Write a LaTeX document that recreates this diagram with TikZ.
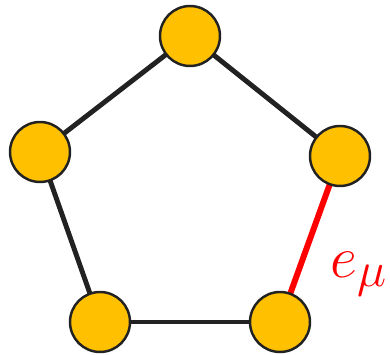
\documentclass[tikz,border=0pt]{standalone}
\usepackage{amsmath,amssymb}
\usepackage{xcolor}
\usetikzlibrary{positioning}
\definecolor{vtxfill}{RGB}{255,192,0}
\definecolor{edgeblack}{RGB}{34,34,34}
\definecolor{edgered}{RGB}{255,0,0}
\tikzset{vtx/.style={circle, draw=edgeblack, line width=1.4pt, fill=vtxfill, minimum size=1.2cm, inner sep=0pt}, edge/.style={draw=edgeblack, line width=2.8pt}, redge/.style={draw=edgered, line width=3.4pt}}

\begin{document}
\begin{tikzpicture}[x=0.02cm, y=-0.02cm]
\useasboundingbox (0,0) rectangle (390,355);
\coordinate (p1) at (190,36);
\coordinate (p2) at (340,156);
\coordinate (p3) at (280,322);
\coordinate (p4) at (100,322);
\coordinate (p5) at (40,152);
\draw[edge] (p1)--(p2);
\draw[edge] (p3)--(p4);
\draw[edge] (p4)--(p5);
\draw[edge] (p5)--(p1);
\draw[redge] (p2)--(p3);
\node[vtx] (v1) at (p1) {};
\node[vtx] (v2) at (p2) {};
\node[vtx] (v3) at (p3) {};
\node[vtx] (v4) at (p4) {};
\node[vtx] (v5) at (p5) {};
\node[anchor=base west, inner sep=0pt, text=edgered, font=\Huge, scale=1.35] (emu) at (330,278) {$e_{\mu}$};
\end{tikzpicture}
\end{document}
